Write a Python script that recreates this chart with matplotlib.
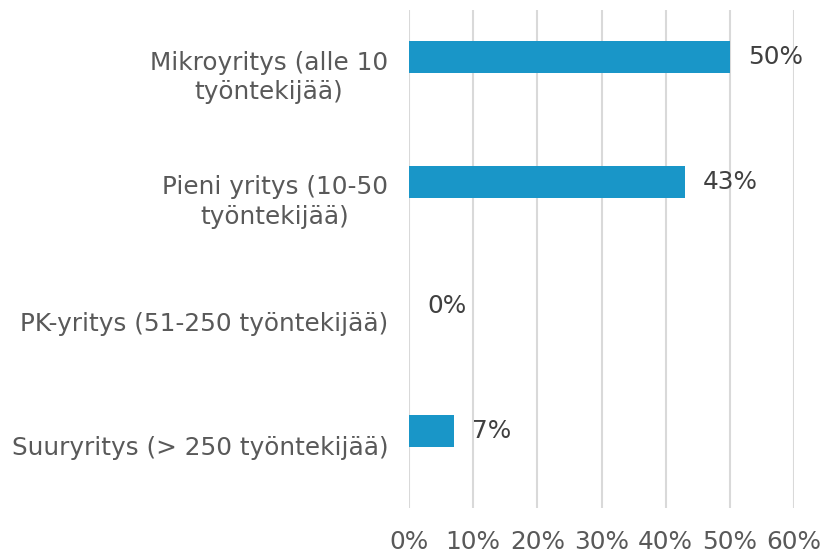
import matplotlib
matplotlib.use("Agg")
import matplotlib.pyplot as plt

plt.rcParams["font.family"] = ["DejaVu Sans"]

categories = ["Mikroyritys (alle 10\ntyöntekijää)",
              "Pieni yritys (10-50\ntyöntekijää)",
              "PK-yritys (51-250 työntekijää)",
              "Suuryritys (> 250 työntekijää)"]
values = [50, 43, 0, 7]
xticks = [0, 10, 20, 30, 40, 50, 60]
xticklabels = ["0%", "10%", "20%", "30%", "40%", "50%", "60%"]

FS = 17.8

fig = plt.figure(figsize=(8.27, 5.53), dpi=100)
ax = fig.add_axes([409/827, 1-508/553, (794-409)/827, (508-10)/553])

pos = list(range(len(categories)))
bar_off = -0.12
ax.barh([p + bar_off for p in pos], values, height=0.26, color="#1996C8", zorder=3)
ax.set_xlim(0, 60)
ax.set_ylim(3.5, -0.5)
ax.set_xticks(xticks)
ax.set_xticklabels(xticklabels)
ax.set_yticks(pos)
ax.set_yticklabels(categories, ha="right", multialignment="center", linespacing=1.3)
ax.tick_params(axis="both", length=0, labelsize=FS, colors="#595959")
ax.tick_params(axis="x", pad=16)
ax.tick_params(axis="y", pad=15)
ax.grid(axis="x", color="#D9D9D9", linewidth=1.5, zorder=0)
for s in ax.spines.values():
    s.set_visible(False)

for p, v in zip(pos, values):
    ax.annotate(f"{v}%", xy=(v, p + bar_off), xytext=(18, 0), textcoords="offset pixels",
                va="center", ha="left", fontsize=FS, color="#404040")

fig.savefig("out.png", dpi=100)
